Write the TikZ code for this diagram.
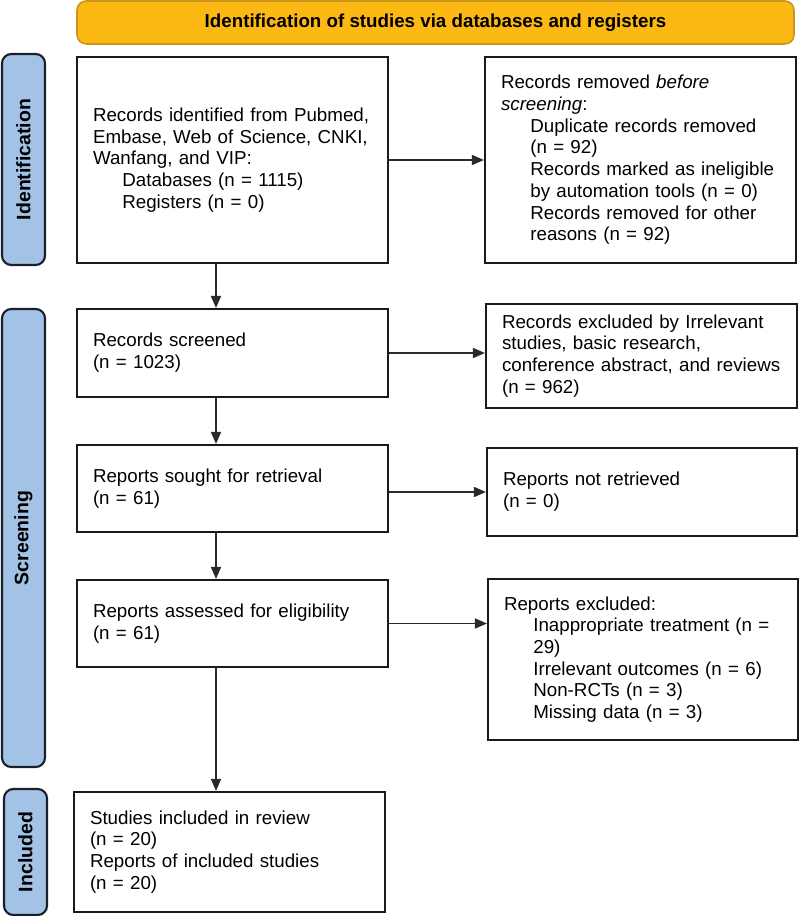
\documentclass[tikz,border=0pt]{standalone}
\usepackage{fontspec}
\setmainfont{Liberation Sans}
\usetikzlibrary{arrows.meta,calc}
\hyphenpenalty=10000
\exhyphenpenalty=10000
\definecolor{gold}{HTML}{FDB913}
\definecolor{goldedge}{HTML}{C9961A}
\definecolor{barblue}{HTML}{A2C2E6}
\definecolor{baredge}{HTML}{1B1F2A}
\definecolor{boxedge}{HTML}{1A1A1A}
\definecolor{arrowc}{HTML}{2A2A2A}
\newcommand{\ind}{\hspace*{22pt}}
\tikzset{
  px/.style={x=0.75pt,y=-0.75pt},
  txt/.style={font=\fontsize{14.06pt}{16.3pt}\selectfont},
  flowbox/.style={txt,draw=boxedge,line width=1.6pt,fill=white,rectangle,inner xsep=12pt,inner ysep=0pt,align=left},
  sidebar/.style={draw=baredge,fill=barblue,line width=1.6pt,rounded corners=7pt,inner sep=0pt,
    font=\fontsize{14.6pt}{16pt}\selectfont\bfseries,rotate=90},
  banner/.style={draw=goldedge,fill=gold,line width=1.2pt,rounded corners=7pt,inner sep=0pt,
    font=\fontsize{14.06pt}{16pt}\selectfont\bfseries},
  arr/.style={draw=arrowc,line width=1.2pt,-{Triangle[length=9pt,width=7.5pt]}}
}
\begin{document}
\begin{tikzpicture}[px]
\useasboundingbox (0,0) rectangle (800,916);
% banner
\node[banner,minimum width=537.75pt,minimum height=32.25pt] (ban) at (435.5,22.5)
  {Identification of studies via databases and registers};
% side bars
\node[sidebar,minimum width=158.25pt,minimum height=32.25pt] (sid) at (23.5,159.5) {Identification};
\node[sidebar,minimum width=343.5pt,minimum height=32.25pt] (sscr) at (23.5,538) {Screening};
\node[sidebar,minimum width=94.5pt,minimum height=32.25pt] (sinc) at (25.5,852) {Included};
% left column
\node[flowbox,minimum width=233.25pt,minimum height=154.5pt,text width=209.25pt] (b1) at (232.5,160)
  {Records identified from Pubmed,\\Embase, Web of Science, CNKI,\\Wanfang, and VIP:\\\ind Databases (n = 1115)\\\ind Registers (n = 0)};
\node[flowbox,minimum width=233.25pt,minimum height=66pt,text width=209.25pt] (b2) at (232.5,353)
  {Records screened\\(n = 1023)};
\node[flowbox,minimum width=233.25pt,minimum height=65.25pt,text width=209.25pt] (b3) at (232.5,488.5)
  {Reports sought for retrieval\\(n = 61)};
\node[flowbox,minimum width=233.25pt,minimum height=65.25pt,text width=209.25pt] (b4) at (232.5,623.5)
  {Reports assessed for eligibility\\(n = 61)};
\node[flowbox,minimum width=233.25pt,minimum height=90pt,text width=209.25pt] (b5) at (229.5,852)
  {Studies included in review\\(n = 20)\\Reports of included studies\\(n = 20)};
% right column
\node[flowbox,minimum width=233.25pt,minimum height=154.5pt,text width=209.25pt] (r1) at (640.5,160)
  {Records removed \textit{before}\\\textit{screening}:\\\ind Duplicate records removed\\\ind (n = 92)\\\ind Records marked as ineligible\\\ind by automation tools (n = 0)\\\ind Records removed for other\\\ind reasons (n = 92)};
\node[flowbox,minimum width=233.25pt,minimum height=78pt,text width=209.25pt] (r2) at (641.5,356)
  {Records excluded by Irrelevant\\studies, basic research,\\conference abstract, and reviews\\(n = 962)};
\node[flowbox,minimum width=232.5pt,minimum height=66pt,text width=208.5pt] (r3) at (642,492)
  {Reports not retrieved\\(n = 0)};
\node[flowbox,minimum width=232.5pt,minimum height=120.75pt,text width=208.5pt] (r4) at (643,659.5)
  {Reports excluded:\\\ind Inappropriate treatment (n =\\\ind 29)\\\ind Irrelevant outcomes (n = 6)\\\ind Non-RCTs (n = 3)\\\ind Missing data (n = 3)};
% connectors
\coordinate (ax) at (216,0);
\draw[arr] (b1.east) -- (b1.east -| r1.west);
\draw[arr] (b2.east) -- (b2.east -| r2.west);
\draw[arr] (b3.east |- r3.west) -- (r3.west);
\draw[arr] (b4.east) -- (b4.east -| r4.west);
\draw[arr] (b1.south -| ax) -- (b2.north -| ax);
\draw[arr] (b2.south -| ax) -- (b3.north -| ax);
\draw[arr] (b3.south -| ax) -- (b4.north -| ax);
\draw[arr] (b4.south -| ax) -- (b5.north -| ax);
\end{tikzpicture}
\end{document}
